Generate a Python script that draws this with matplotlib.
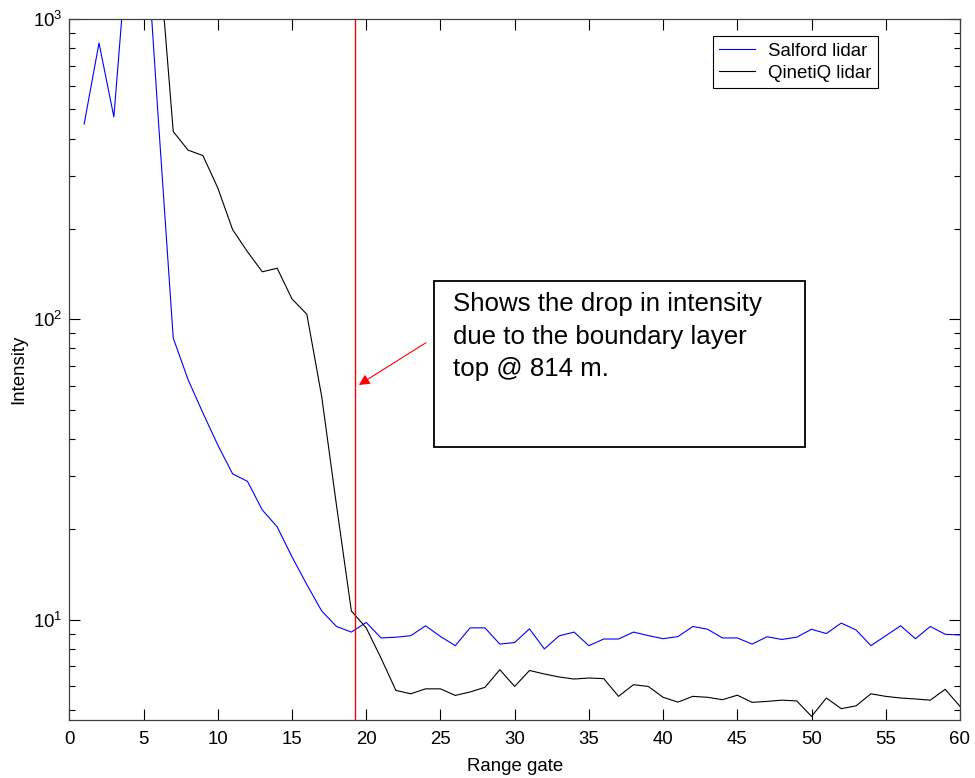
import numpy as np
import matplotlib
matplotlib.use("Agg")
import matplotlib.pyplot as plt
from matplotlib.patches import Rectangle

plt.rcParams["font.family"] = ["Liberation Sans", "DejaVu Sans"]

# Données (portes 1 à 60)
gates = list(range(1, 61))
salford = [447, 832, 472, 1950, 2600, 460, 86.7, 63, 48.8, 38.2,
           30.6, 28.9, 23.2, 20.4, 16.2, 13.1, 10.7, 9.5, 9.1, 9.8,
           8.7, 8.75, 8.85, 9.55, 8.8, 8.2, 9.4, 9.4, 8.3, 8.4,
           9.33, 8.0, 8.84, 9.1, 8.2, 8.63, 8.63, 9.1, 8.86, 8.65,
           8.79, 9.5, 9.3, 8.7, 8.7, 8.3, 8.78, 8.6, 8.75, 9.3,
           9.0, 9.75, 9.25, 8.2, 8.85, 9.55, 8.65, 9.5, 8.95, 8.9]
qinetiq = [2500, 3500, 4000, 3800, 2600, 1740, 422, 366, 351, 274,
           199, 168, 144, 148, 117, 104, 55.4, 24, 10.7, 9.4,
           7.45, 5.82, 5.67, 5.89, 5.89, 5.60, 5.75, 5.96, 6.82, 6.0,
           6.78, 6.6, 6.45, 6.35, 6.4, 6.37, 5.56, 6.08, 6.0, 5.52,
           5.32, 5.56, 5.52, 5.42, 5.61, 5.31, 5.35, 5.40, 5.37, 4.77,
           5.49, 5.06, 5.17, 5.67, 5.56, 5.49, 5.45, 5.40, 5.87, 5.15]
boundary_gate = 19.25
note = "Shows the drop in intensity\ndue to the boundary layer\ntop @ 814 m."

fig = plt.figure(figsize=(9.75, 7.78), dpi=100)
ax = fig.add_axes([0.0711, 0.0746, 0.9135, 0.901])

ax.plot(gates, salford, color="blue", lw=0.8, label="Salford lidar")
ax.plot(gates, qinetiq, color="black", lw=0.8, label="QinetiQ lidar")
ax.axvline(boundary_gate, color="red", lw=1)

ax.set_yscale("log")
ax.set_xlim(0, 60)
ax.set_ylim(4.64, 1000)
ax.set_xticks(np.arange(0, 61, 5))
ax.set_xlabel("Range gate", fontsize=13.4, labelpad=7)
ax.set_ylabel("Intensity", fontsize=13.4, labelpad=4)
ax.tick_params(which="both", direction="in", top=True, right=True,
               labelsize=13.4, colors="black")
ax.tick_params(which="major", length=8, width=0.8)
ax.tick_params(which="minor", length=4, width=0.8)
ax.tick_params(axis="x", which="major", pad=8)
ax.tick_params(axis="y", which="major", pad=5)
for s in ax.spines.values():
    s.set_linewidth(0.9)
    s.set_color("#404040")

ax.legend(loc="upper right", bbox_to_anchor=(0.9076, 0.9757), borderaxespad=0,
          fontsize=13.4, fancybox=False, edgecolor="black", framealpha=1,
          handlelength=1.9, handletextpad=0.7, labelspacing=0.27,
          borderpad=0.35).get_frame().set_linewidth(0.8)

# Flèche et boîte d'annotation
ax.annotate("", xy=(19.5, 60.5), xytext=(24.02, 83.6),
            arrowprops=dict(arrowstyle="-|>", color="red", lw=0.8,
                            mutation_scale=16, shrinkA=0, shrinkB=0))
fig.patches.append(Rectangle((0.4454, 0.4258), 0.3802, 0.213,
                             transform=fig.transFigure, fill=False,
                             edgecolor="black", lw=1.3))
fig.text(0.4646, 0.6245, note, fontsize=18.6, va="top", ha="left",
         linespacing=1.45)

plt.savefig("out.png", dpi=100)
